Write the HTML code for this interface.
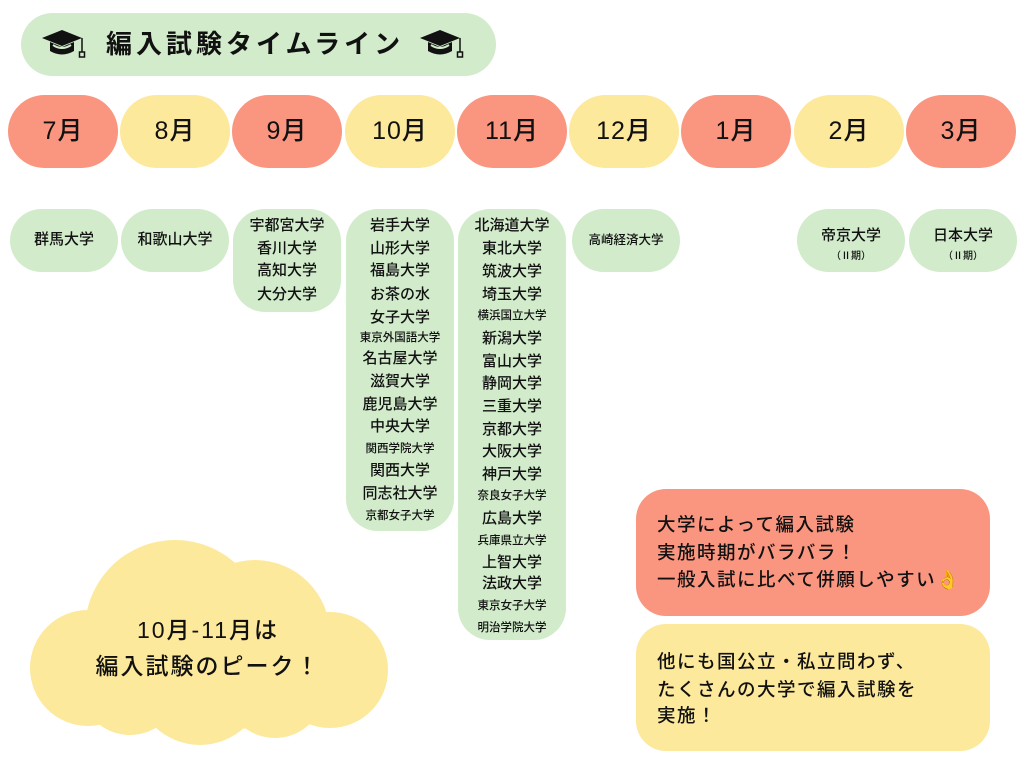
<!DOCTYPE html>
<html><head><meta charset="utf-8"><style>
body{margin:0;width:1024px;height:768px;background:#fff;position:relative;overflow:hidden;font-family:"Liberation Sans","Noto Sans CJK JP",sans-serif;color:#111}
.a{position:absolute}
.m{position:absolute;top:95px;width:110px;height:73px;border-radius:37px;font-size:25px;line-height:73px;text-align:center;letter-spacing:1px;font-weight:500}
.r{background:#fa9680}.y{background:#fde99b}.g{background:#d1ebcb}
.u{position:absolute;top:209px;width:108px;border-radius:32px;background:#d1ebcb;text-align:center}
.l{position:absolute;left:0;width:100%;text-align:center;font-size:15px;line-height:20px;font-weight:500;transform:translateY(-10px)}
.s{font-size:11.5px}
.t{position:absolute;left:657px;font-size:18.5px;letter-spacing:1.5px;line-height:26px;transform:translateY(-13px);white-space:nowrap;font-weight:500}
</style></head><body>
<div class="a g" style="left:21px;top:13px;width:475px;height:63px;border-radius:32px"></div>
<svg class="a" style="left:40px;top:28px" width="52" height="34" viewBox="0 0 52 34"><polygon points="2,10 22,2 42,10 22,18" fill="#111"/><path d="M10,14 v9 q12,7 24,0 v-9 l-12,5z" fill="#111"/><path d="M13,17 q9,6 18,0" stroke="#d1ebcb" stroke-width="2" fill="none"/><line x1="42" y1="10" x2="42" y2="24" stroke="#111" stroke-width="1.5"/><rect x="39.5" y="24" width="5" height="5" fill="none" stroke="#111" stroke-width="1.5"/></svg>
<svg class="a" style="left:418px;top:28px" width="52" height="34" viewBox="0 0 52 34"><polygon points="2,10 22,2 42,10 22,18" fill="#111"/><path d="M10,14 v9 q12,7 24,0 v-9 l-12,5z" fill="#111"/><path d="M13,17 q9,6 18,0" stroke="#d1ebcb" stroke-width="2" fill="none"/><line x1="42" y1="10" x2="42" y2="24" stroke="#111" stroke-width="1.5"/><rect x="39.5" y="24" width="5" height="5" fill="none" stroke="#111" stroke-width="1.5"/></svg>
<div class="a" style="left:106px;top:26px;font-size:26px;letter-spacing:4px;line-height:36px;font-weight:bold">編入試験タイムライン</div>

<div class="m r" style="left:8px">7月</div>
<div class="m y" style="left:120px">8月</div>
<div class="m r" style="left:232px">9月</div>
<div class="m y" style="left:345px">10月</div>
<div class="m r" style="left:457px">11月</div>
<div class="m y" style="left:569px">12月</div>
<div class="m r" style="left:681px">1月</div>
<div class="m y" style="left:794px">2月</div>
<div class="m r" style="left:906px">3月</div>

<div class="u" style="left:10px;height:63px"><div class="l" style="top:31px">群馬大学</div></div>
<div class="u" style="left:121px;height:63px"><div class="l" style="top:31px">和歌山大学</div></div>
<div class="u" style="left:233px;height:103px"><div class="l" style="top:17px">宇都宮大学</div><div class="l" style="top:40px">香川大学</div><div class="l" style="top:62px">高知大学</div><div class="l" style="top:86px">大分大学</div></div>
<div class="u" style="left:346px;height:322px">
<div class="l" style="top:17px">岩手大学</div><div class="l" style="top:40px">山形大学</div><div class="l" style="top:62px">福島大学</div><div class="l" style="top:86px">お茶の水</div><div class="l" style="top:109px">女子大学</div><div class="l s" style="top:129px">東京外国語大学</div><div class="l" style="top:150px">名古屋大学</div><div class="l" style="top:173px">滋賀大学</div><div class="l" style="top:196px">鹿児島大学</div><div class="l" style="top:218px">中央大学</div><div class="l s" style="top:240px">関西学院大学</div><div class="l" style="top:262px">関西大学</div><div class="l" style="top:285px">同志社大学</div><div class="l s" style="top:307px">京都女子大学</div></div>
<div class="u" style="left:458px;height:431px">
<div class="l" style="top:17px">北海道大学</div><div class="l" style="top:40px">東北大学</div><div class="l" style="top:63px">筑波大学</div><div class="l" style="top:86px">埼玉大学</div><div class="l s" style="top:107px">横浜国立大学</div><div class="l" style="top:130px">新潟大学</div><div class="l" style="top:153px">富山大学</div><div class="l" style="top:175px">静岡大学</div><div class="l" style="top:198px">三重大学</div><div class="l" style="top:221px">京都大学</div><div class="l" style="top:243px">大阪大学</div><div class="l" style="top:266px">神戸大学</div><div class="l s" style="top:287px">奈良女子大学</div><div class="l" style="top:310px">広島大学</div><div class="l s" style="top:332px">兵庫県立大学</div><div class="l" style="top:354px">上智大学</div><div class="l" style="top:375px">法政大学</div><div class="l s" style="top:397px">東京女子大学</div><div class="l s" style="top:419px">明治学院大学</div></div>
<div class="u" style="left:572px;height:63px"><div class="l s" style="top:31px;font-size:12.5px">高崎経済大学</div></div>
<div class="u" style="left:797px;height:63px"><div class="l" style="top:27px">帝京大学</div><div class="l s" style="top:48px;font-size:10px">（Ⅱ期）</div></div>
<div class="u" style="left:909px;height:63px"><div class="l" style="top:27px">日本大学</div><div class="l s" style="top:48px;font-size:10px">（Ⅱ期）</div></div>

<svg class="a" style="left:0;top:520px" width="420" height="240"><g fill="#fde99b">
<circle cx="175" cy="110" r="90"/><circle cx="255" cy="115" r="75"/><circle cx="88" cy="148" r="58"/><circle cx="330" cy="150" r="58"/><circle cx="200" cy="160" r="65"/><circle cx="130" cy="165" r="50"/><circle cx="275" cy="168" r="50"/><ellipse cx="210" cy="155" rx="150" ry="55"/></g></svg>
<div class="a" style="left:55px;top:612px;width:306px;text-align:center;font-size:23px;line-height:36px;letter-spacing:2px;font-weight:500">10月-11月は<br>編入試験のピーク！</div>

<div class="a r" style="left:636px;top:489px;width:354px;height:127px;border-radius:30px"></div>
<div class="t" style="top:525px">大学によって編入試験</div>
<div class="t" style="top:553px">実施時期がバラバラ！</div>
<div class="t" style="top:580px">一般入試に比べて併願しやすい<span style="color:#fde99b">👌</span></div>
<div class="a y" style="left:636px;top:624px;width:354px;height:127px;border-radius:30px"></div>
<div class="t" style="top:662px">他にも国公立・私立問わず、</div>
<div class="t" style="top:690px">たくさんの大学で編入試験を</div>
<div class="t" style="top:716px">実施！</div>
</body></html>
